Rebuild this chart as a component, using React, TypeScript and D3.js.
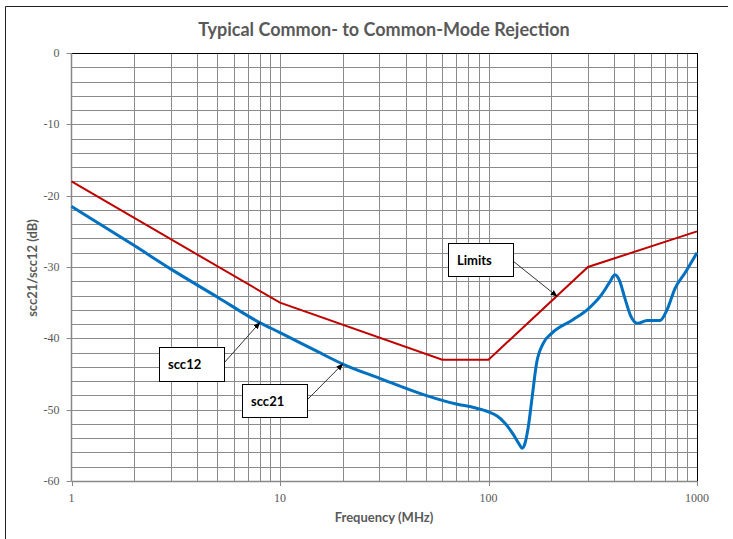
import React from "react";
import * as d3 from "d3";

const title = "Typical Common- to Common-Mode Rejection";
const xLabel = "Frequency (MHz)";
const yLabel = "scc21/scc12 (dB)";

const xTicks = [1, 10, 100, 1000];
const yTicks = [0, -10, -20, -30, -40, -50, -60];

const limitsFreq = [1, 10, 60, 100, 300, 1000];
const limitsDb = [-18, -35, -43, -43, -30, -25];

const sccFreq = [1, 2, 3, 5, 8, 10, 15, 20, 30, 50, 60, 70, 85, 100, 110, 120, 131, 140, 145, 150, 155, 162, 170, 183, 201, 254, 300, 350, 380, 404, 425, 450, 480, 520, 576, 664, 718, 785, 877, 1000];
const sccDb = [-21.5, -27, -30.3, -34.2, -37.8, -39.2, -41.8, -43.6, -45.6, -48, -48.7, -49.2, -49.7, -50.3, -50.9, -51.9, -53.4, -54.8, -55.4, -54.6, -52.5, -48.2, -43.5, -40.7, -39.3, -37.4, -35.9, -33.8, -32.2, -31.1, -31.9, -34.3, -36.8, -37.9, -37.5, -37.5, -36, -33, -30.8, -28];

const annotations = [
  { label: "Limits", bx: 448, by: 243, bw: 65, bh: 33, ax: 513, ay: 261, tf: 213, tdb: -34.1 },
  { label: "scc12", bx: 159, by: 347, bw: 65, bh: 34, ax: 224, ay: 363, tf: 8, tdb: -37.8 },
  { label: "scc21", bx: 242, by: 384, bw: 65, bh: 33, ax: 307, ay: 400, tf: 20, tdb: -43.6 },
];

export default function App() {
  const W = 733, H = 539;
  const left = 71.5, right = 697, top = 53, bottom = 481;
  const x = d3.scaleLog().domain([1, 1000]).range([left, right]);
  const y = d3.scaleLinear().domain([-60, 0]).range([bottom, top]);

  const minorX: number[] = [];
  for (let dec = 1; dec < 1000; dec *= 10) for (let k = 2; k <= 9; k++) minorX.push(dec * k);
  const gridY = d3.range(-58, 0, 2);

  const line = d3.line<[number, number]>().x(d => x(d[0])).y(d => y(d[1]));
  const smooth = d3.line<[number, number]>().x(d => x(d[0])).y(d => y(d[1])).curve(d3.curveMonotoneX);
  const limitsPts = limitsFreq.map((f, i) => [f, limitsDb[i]] as [number, number]);
  const sccPts = sccFreq.map((f, i) => [f, sccDb[i]] as [number, number]);

  const grid = "#8a8a8a";
  const textCol = "#595959";
  const sans = "Lato, 'Open Sans', sans-serif";
  const serif = "'Liberation Serif', 'DejaVu Serif', serif";

  return (
    <svg width={W} height={H} style={{ position: "absolute", left: 0, top: 0 }}>
      <defs>
        <marker id="arr" viewBox="0 0 10 10" refX="9" refY="5" markerWidth="7" markerHeight="7" orient="auto">
          <path d="M0,1 L10,5 L0,9 z" fill="#000" />
        </marker>
      </defs>
      <rect x={0} y={0} width={W} height={H} fill="#fff" />
      <line x1={5.5} y1={6.5} x2={728} y2={6.5} stroke="#222" strokeWidth={1} />
      <line x1={5.5} y1={6.5} x2={5.5} y2={H} stroke="#222" strokeWidth={1} />

      <text x={384} y={36} textAnchor="middle" fontFamily={sans} fontWeight="bold" fontSize={18} fill={textCol}>{title}</text>

      {gridY.map(v => (
        <line key={"gy" + v} x1={left} x2={right} y1={Math.round(y(v)) + 0.5} y2={Math.round(y(v)) + 0.5} stroke={grid} strokeWidth={1} />
      ))}
      {minorX.map(v => (
        <line key={"gx" + v} x1={Math.round(x(v)) + 0.5} x2={Math.round(x(v)) + 0.5} y1={top} y2={bottom} stroke={grid} strokeWidth={1} />
      ))}
      {[10, 100].map(v => (
        <line key={"mx" + v} x1={Math.round(x(v)) + 0.5} x2={Math.round(x(v)) + 0.5} y1={top} y2={bottom} stroke={grid} strokeWidth={1} />
      ))}

      <line x1={left} x2={right} y1={top + 0.5} y2={top + 0.5} stroke="#000" strokeWidth={1} />
      <line x1={right + 0.5} x2={right + 0.5} y1={top} y2={bottom} stroke="#000" strokeWidth={1} />
      <line x1={left} x2={right} y1={bottom + 0.5} y2={bottom + 0.5} stroke="#888" strokeWidth={1.5} />
      <line x1={left} x2={left} y1={top} y2={bottom} stroke="#888" strokeWidth={1.5} />

      {yTicks.map(v => (
        <g key={"yt" + v}>
          <line x1={left - 5} x2={left} y1={Math.round(y(v)) + 0.5} y2={Math.round(y(v)) + 0.5} stroke="#888" />
          <text x={left - 12} y={y(v) + 4} textAnchor="end" fontFamily={serif} fontSize={12} fill={textCol}>{v}</text>
        </g>
      ))}
      {xTicks.map(v => (
        <g key={"xt" + v}>
          <line x1={Math.round(x(v)) + 0.5} x2={Math.round(x(v)) + 0.5} y1={bottom} y2={bottom + 5} stroke="#888" />
          <text x={x(v)} y={bottom + 21} textAnchor="middle" fontFamily={serif} fontSize={12} fill={textCol}>{v}</text>
        </g>
      ))}

      <text x={384} y={522} textAnchor="middle" fontFamily={sans} fontWeight="bold" fontSize={13} fill={textCol}>{xLabel}</text>
      <text transform={`translate(37,268) rotate(-90)`} textAnchor="middle" fontFamily={sans} fontWeight="bold" fontSize={13} fill={textCol}>{yLabel}</text>

      <path d={line(limitsPts) || ""} fill="none" stroke="#C00000" strokeWidth={2} />
      <path d={smooth(sccPts) || ""} fill="none" stroke="#0070C0" strokeWidth={3} strokeLinejoin="round" />

      {annotations.map(a => (
        <g key={a.label}>
          <line x1={a.ax} y1={a.ay} x2={x(a.tf)} y2={y(a.tdb)} stroke="#333" strokeWidth={1} markerEnd="url(#arr)" />
          <rect x={a.bx + 0.5} y={a.by + 0.5} width={a.bw} height={a.bh} fill="#fff" stroke="#000" strokeWidth={1} />
          <text x={a.bx + 9} y={a.by + a.bh / 2 + 5} fontFamily={sans} fontWeight="bold" fontSize={13} fill="#000">{a.label}</text>
        </g>
      ))}
    </svg>
  );
}
